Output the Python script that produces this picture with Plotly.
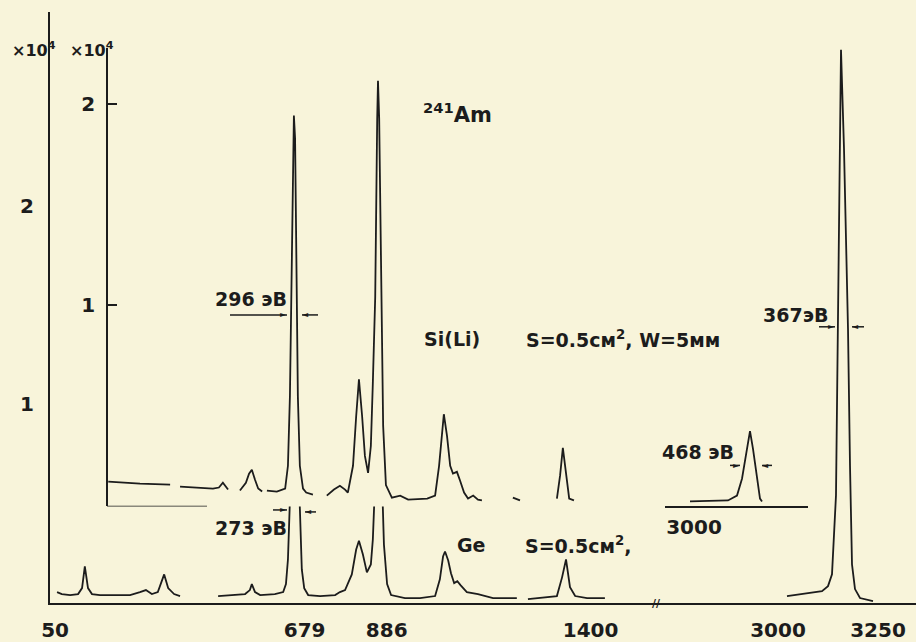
import plotly.graph_objects as go

# ---------------- data (counts in units of 10^4) ----------------
# Ge detector spectrum, low-energy part (channels)
ge_x = [55, 67, 88, 108, 118, 125, 133, 143, 163, 201, 239, 264, 279, 294, 309, 325, 335, 350, 365, None,
        461, 491, 529, 541, 546, 554, 567, 604, 625, 632, 637, 642, 647, 652, 657, 662, 667, 672, 678, 688,
        718, 756, 768, 781, 798, 809, 816, 826, 836, 846, 851, 857, 862, 865, 869, 874, 879, 887, 897, 932,
        970, 1008, 1020, 1028, 1033, 1041, 1048, 1056, 1064, 1072, 1088, 1116, 1154, 1214, None,
        1242, 1315, 1328, 1338, 1348, 1361, 1391, 1436]
ge_y = [0.055, 0.045, 0.040, 0.045, 0.075, 0.184, 0.075, 0.045, 0.040, 0.040, 0.040, 0.055, 0.065, 0.045, 0.055, 0.144, 0.075, 0.045, 0.035, None,
        0.035, 0.040, 0.045, 0.065, 0.095, 0.055, 0.040, 0.045, 0.055, 0.095, 0.219, 0.518, 0.837, 0.962, 0.952, 0.792, 0.443, 0.169, 0.075, 0.040,
        0.035, 0.040, 0.055, 0.065, 0.144, 0.269, 0.313, 0.244, 0.154, 0.194, 0.319, 0.643, 0.967, 1.036, 0.967, 0.643, 0.294, 0.095, 0.040, 0.025,
        0.025, 0.035, 0.119, 0.234, 0.259, 0.214, 0.150, 0.100, 0.110, 0.090, 0.055, 0.045, 0.025, 0.025, None,
        0.020, 0.035, 0.129, 0.219, 0.080, 0.035, 0.025, 0.025]

# Ge spectrum, 59.5 keV region (after axis break)
ge2_x = [3022.5, 3080, 3110, 3125, 3135, 3145, 3150, 3155, 3157.5, 3165, 3175, 3180, 3185, 3192.5, 3205, 3237.5]
ge2_y = [0.035, 0.050, 0.060, 0.085, 0.144, 0.543, 1.380, 2.436, 2.785, 2.286, 1.380, 0.692, 0.194, 0.070, 0.025, 0.010]

# Si(Li) spectrum (inner scale)
si_x = [184, 214, 264, 340, None, 365, 448, 463, 473, 486, None, 516, 531, 539, 546, 554, 562, 572, None,
        584, 609, 630, 637, 642, 645, 650, 652, 655, 660, 662, 667, 675, 683, 700, None,
        735, 753, 768, 781, 788, 801, 809, 816, 824, 831, 839, 846, 851, 857, 862, 864, 867, 872, 877, 884,
        899, 920, 940, 988, 1008, 1018, 1025, 1030, 1038, 1046, 1053, 1063, 1071, 1081, 1091, 1104, 1116, 1126, None,
        1204, 1222, None, 1315, 1323, 1330, 1338, 1346, 1358]
si_y = [0.123, 0.118, 0.113, 0.108, None, 0.099, 0.089, 0.094, 0.118, 0.084, None, 0.079, 0.118, 0.163, 0.182, 0.133, 0.089, 0.074, None,
        0.079, 0.074, 0.089, 0.202, 0.547, 1.039, 1.828, 1.941, 1.828, 1.039, 0.547, 0.202, 0.089, 0.069, 0.059, None,
        0.054, 0.084, 0.103, 0.084, 0.069, 0.202, 0.448, 0.631, 0.448, 0.251, 0.167, 0.300, 0.611, 1.039, 1.924, 2.113, 1.924, 1.039, 0.400, 0.106,
        0.044, 0.054, 0.034, 0.039, 0.054, 0.202, 0.374, 0.458, 0.350, 0.202, 0.163, 0.172, 0.128, 0.069, 0.039, 0.054, 0.034, 0.030, None,
        0.044, 0.030, None, 0.039, 0.153, 0.291, 0.153, 0.039, 0.030]

# Si(Li) spectrum, 59.5 keV inset
si2_x = [2990, 3085, 3107.5, 3120, 3132.5, 3140, 3147.5, 3157.5, 3165, 3170]
si2_y = [0.025, 0.030, 0.054, 0.138, 0.286, 0.374, 0.286, 0.138, 0.039, 0.025]

x_ticks_left = [50, 679, 886, 1400]
x_ticks_right = [3000, 3250]
x_ticks_inset = [3000]
y_ticks = [1, 2]

# ---------------- styling ----------------
BG = "#f8f4da"
INK = "#1c1c1c"
FONT = "DejaVu Sans"
W, H = 916, 642
ML, MR, MT, MB = 50, 0, 12, 33
PW, PH = W - ML - MR, H - MT - MB


def fx(p):
    return (p - ML) / PW


def fy(p):
    return (H - MB - p) / PH


line = dict(color=INK, width=1.8)
fig = go.Figure()
fig.add_trace(go.Scatter(x=ge_x, y=ge_y, mode="lines", line=line, xaxis="x", yaxis="y", connectgaps=False))
fig.add_trace(go.Scatter(x=ge2_x, y=ge2_y, mode="lines", line=line, xaxis="x2", yaxis="y"))
fig.add_trace(go.Scatter(x=si_x, y=si_y, mode="lines", line=line, xaxis="x", yaxis="y3", connectgaps=False))
fig.add_trace(go.Scatter(x=si2_x, y=si2_y, mode="lines", line=line, xaxis="x4", yaxis="y3"))

brk = fx(660)
tickfont = dict(family=FONT, size=20, color=INK, weight="bold")

fig.update_layout(
    width=W, height=H, margin=dict(l=ML, r=MR, t=MT, b=MB),
    paper_bgcolor=BG, plot_bgcolor=BG, showlegend=False,
    font=dict(family=FONT, color=INK),
    xaxis=dict(domain=[0, brk], range=[37.2, 1574.9], anchor="y", showline=True, linecolor=INK, linewidth=2,
               showgrid=False, zeroline=False, tickvals=x_ticks_left, ticks="", tickfont=tickfont,
               ticklabelstandoff=8),
    xaxis2=dict(domain=[brk, 1], range=[2705, 3345], anchor="y", showline=True, linecolor=INK, linewidth=2,
                showgrid=False, zeroline=False, tickvals=x_ticks_right, ticks="", tickfont=tickfont,
                ticklabelstandoff=8),
    xaxis4=dict(domain=[fx(665), fx(808)], range=[2927.5, 3285], anchor="y3", showline=True, linecolor=INK,
                linewidth=1.5, showgrid=False, zeroline=False, tickvals=x_ticks_inset, ticks="",
                tickfont=tickfont, ticklabelstandoff=2),
    yaxis=dict(domain=[0, 1], range=[0, PH / 200.7], anchor="x", showline=True, linecolor=INK, linewidth=2,
               showgrid=False, zeroline=False, tickvals=y_ticks, ticks="inside", ticklen=9, tickwidth=1.5,
               tickcolor=INK, tickfont=tickfont, ticklabelstandoff=10),
    yaxis3=dict(domain=[fy(511.5), fy(48)], range=[0, (511.5 - 48) / 203.5], anchor="free", position=fx(107),
                side="left", showline=True, linecolor=INK, linewidth=1.8, showgrid=False, zeroline=False,
                tickvals=y_ticks, ticks="inside", ticklen=9, tickwidth=1.5, tickcolor=INK, tickfont=tickfont,
                ticklabelstandoff=7),
)

# short baseline of the inner Si(Li) frame
fig.add_shape(type="line", xref="paper", yref="y3", x0=fx(107), x1=fx(207), y0=0, y1=0,
              line=dict(color=INK, width=1.5))

txt_font = dict(family=FONT, size=19, color=INK, weight="bold")
texts = [
    ("×10<sup>4</sup>", 10, 50, "left", 16),
    ("×10<sup>4</sup>", 68, 50, "left", 16),
    ("<sup>241</sup>Am", 421, 114, "left", 21),
    ("296 эВ", 251, 302, "center", 19),
    ("Si(Li)", 452, 342, "center", 19),
    ("S=0.5см<sup>2</sup>, W=5мм", 623, 342, "center", 19),
    ("367эВ", 795, 318, "center", 19),
    ("468 эВ", 698, 456, "center", 19),
    ("273 эВ", 251, 533, "center", 19),
    ("Ge", 471, 550, "center", 19),
    ("S=0.5см<sup>2</sup>,", 578, 550, "center", 19),
    ("//", 656, 609, "center", 11),
]
for t, x, y, xa, s in texts:
    fig.add_annotation(text=t, x=fx(x), y=fy(y), xref="paper", yref="paper", xanchor=xa, yanchor="middle",
                       showarrow=False, font=dict(txt_font, size=s))

# FWHM markers: (tip x, y, tail length; negative = arrow points right)
arrows = [
    (287, 318, -57), (302, 318, 16),
    (287, 515, -14), (305, 517, 11),
    (835, 330, -16), (852, 330, 12),
    (740, 470, -10), (762, 470, 10),
]
for x, y, dx in arrows:
    fig.add_shape(type="line", xref="paper", yref="paper", x0=fx(x + dx), x1=fx(x), y0=fy(y), y1=fy(y),
                  line=dict(color=INK, width=1.5))
    head = "►" if dx < 0 else "◄"
    fig.add_annotation(text=head, x=fx(x), y=fy(y), xref="paper", yref="paper",
                       xanchor="right" if dx < 0 else "left", yanchor="middle", showarrow=False,
                       font=dict(family=FONT, size=8, color=INK), xshift=2 if dx < 0 else -2)

fig.write_html("out.html")
